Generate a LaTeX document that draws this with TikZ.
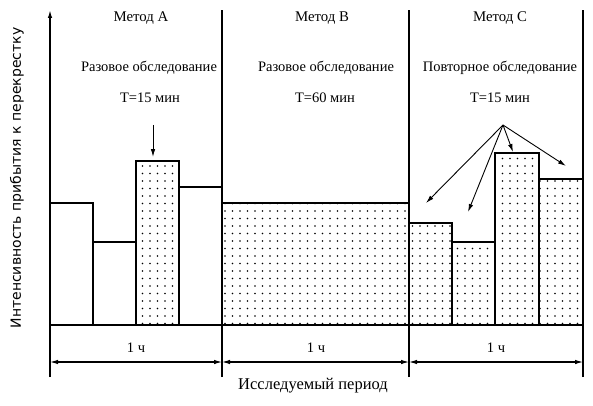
\documentclass[tikz,border=0pt]{standalone}
\usepackage{fontspec}
\setmainfont{Liberation Serif}
\newfontfamily\axisfont{DejaVu Sans}
\usetikzlibrary{patterns.meta,arrows.meta}

\begin{document}
\begin{tikzpicture}[x=1pt,y=-1pt,line width=1.4pt,
  dotfill/.style={pattern={Dots[distance=7.5pt,radius=0.8pt]}},
  head/.style={font=\fontsize{14.8}{17}\selectfont},
  txt/.style={font=\fontsize{14.5}{17}\selectfont},
  dim/.style={line width=1.1pt,{Latex[length=8pt,width=4.5pt]}-{Latex[length=8pt,width=4.5pt]}},
  ptr/.style={line width=0.9pt,-{Latex[length=8pt,width=4.5pt]}}]
  \useasboundingbox (0,0) rectangle (593,406);
  % bars, method A
  \draw (50,325) rectangle (93,203);
  \draw (93,325) rectangle (136,242);
  \draw[dotfill] (136,325) rectangle (179,161);
  \draw (179,325) rectangle (222,187);
  % method B
  \draw[dotfill] (222,325) rectangle (409,203);
  % method C
  \draw[dotfill] (409,325) rectangle (452,223);
  \draw[dotfill] (452,325) rectangle (495,242);
  \draw[dotfill] (495,325) rectangle (539,153);
  \draw[dotfill] (539,325) rectangle (583,179);
  % frame
  \draw[-{Latex[length=8pt,width=4.5pt]}] (50,377) -- (50,10);
  \draw (222,377) -- (222,10);
  \draw (409,377) -- (409,10);
  \draw (583,377) -- (583,10);
  \draw (50,325) -- (583,325);
  % dimensions
  \draw[dim] (50,362) -- (222,362);
  \draw[dim] (222,362) -- (409,362);
  \draw[dim] (409,362) -- (583,362);
  \node[txt] (hA) at (136,348) {1 ч};
  \node[txt] (hB) at (316,348) {1 ч};
  \node[txt] (hC) at (496,348) {1 ч};
  % headings
  \node[head] (mA) at (141,18) {Метод А};
  \node[head] (mB) at (322,18) {Метод В};
  \node[head] (mC) at (500,18) {Метод С};
  \node[txt] (sA) at (149,68) {Разовое обследование};
  \node[txt] (tA) at (150,98) {Т=15 мин};
  \node[txt] (sB) at (326,68) {Разовое обследование};
  \node[txt] (tB) at (325,98) {Т=60 мин};
  \node[txt] (sC) at (500,68) {Повторное обследование};
  \node[txt] (tC) at (500,98) {Т=15 мин};
  % pointers
  \coordinate (pA) at (153,125);
  \coordinate (pC) at (503,125);
  \draw[ptr] (pA) -- (153,157);
  \draw[ptr] (pC) -- (426,203);
  \draw[ptr] (pC) -- (468,212);
  \draw[ptr] (pC) -- (513,152);
  \draw[ptr] (pC) -- (566,166);
  % axis labels
  \node[font=\fontsize{16.5}{19}\selectfont] (xl) at (313,386) {Исследуемый период};
  \node[rotate=90,font=\axisfont\fontsize{14}{16}\selectfont] (yl) at (17,178) {Интенсивность прибытия к перекрестку};
\end{tikzpicture}
\end{document}
